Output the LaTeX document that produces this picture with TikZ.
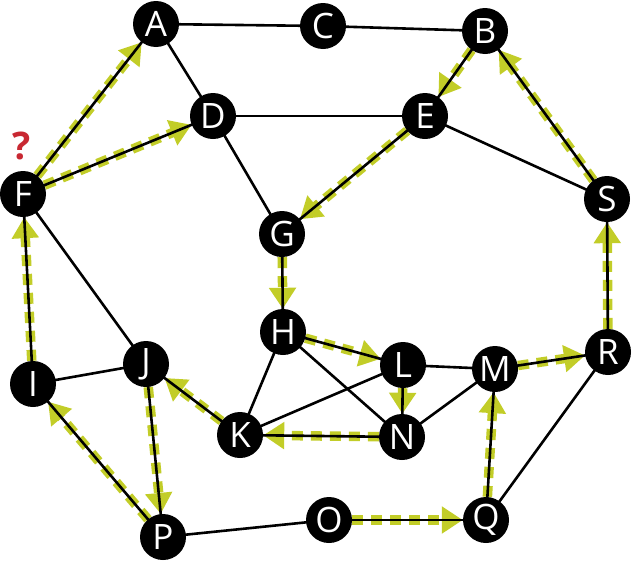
\documentclass[tikz,border=0pt]{standalone}
\usepackage{fontspec}
\setmainfont{Open Sans}
\usetikzlibrary{arrows.meta,backgrounds}
\definecolor{walkgreen}{RGB}{194,205,40}
\definecolor{askred}{RGB}{200,40,50}
\begin{document}
\begin{tikzpicture}[x=1pt,y=-1pt,line join=round,
	vtx/.style={circle,fill=black,text=white,minimum size=46pt,inner sep=0pt,font=\fontsize{35}{35}\selectfont},
	edge/.style={line width=2.6pt,black},
	walk/.style={line width=9.5pt,walkgreen,dash pattern=on 11pt off 8pt,-{Triangle[length=21pt,width=26pt]}}]
	\useasboundingbox (0,0) rectangle (634,565);
	\node[vtx] (A) at (156,24) {A};
	\node[vtx] (C) at (323,26) {C};
	\node[vtx] (B) at (485,31) {B};
	\node[vtx] (D) at (213,116) {D};
	\node[vtx] (E) at (425,116) {E};
	\node[vtx] (F) at (23,194) {F};
	\node[vtx] (S) at (607,199) {S};
	\node[vtx] (G) at (282,234) {G};
	\node[vtx] (H) at (283,332) {H};
	\node[vtx] (J) at (146,364) {J};
	\node[vtx] (L) at (403,365) {L};
	\node[vtx] (M) at (495,369) {M};
	\node[vtx] (R) at (608,352) {R};
	\node[vtx] (I) at (33,384) {I};
	\node[vtx] (K) at (240,435) {K};
	\node[vtx] (N) at (402,437) {N};
	\node[vtx] (O) at (329,520) {O};
	\node[vtx] (Q) at (486,520) {Q};
	\node[vtx] (P) at (163,537) {P};
	\node[text=askred,font=\fontsize{38}{38}\selectfont\bfseries] (ask) at (22,146) {?};
	\begin{pgfonlayer}{background}
	% the walk
	\foreach \a/\b in {F/A,F/D,B/E,E/G,G/H,H/L,L/N,N/K,K/J,J/P,P/I,I/F,O/Q,Q/M,M/R,R/S,S/B}
		\draw[walk] (\a)--(\b);
	% the graph
	\foreach \a/\b in {A/C,C/B,A/D,D/E,D/G,E/S,B/E,B/S,F/A,F/D,F/J,F/I,I/J,J/P,I/P,P/O,O/Q,Q/M,Q/R,R/M,M/L,M/N,L/K,L/N,H/L,H/K,H/N,K/N,J/K,G/H,E/G,S/R}
		\draw[edge] (\a.center)--(\b.center);
	\end{pgfonlayer}
\end{tikzpicture}
\end{document}
